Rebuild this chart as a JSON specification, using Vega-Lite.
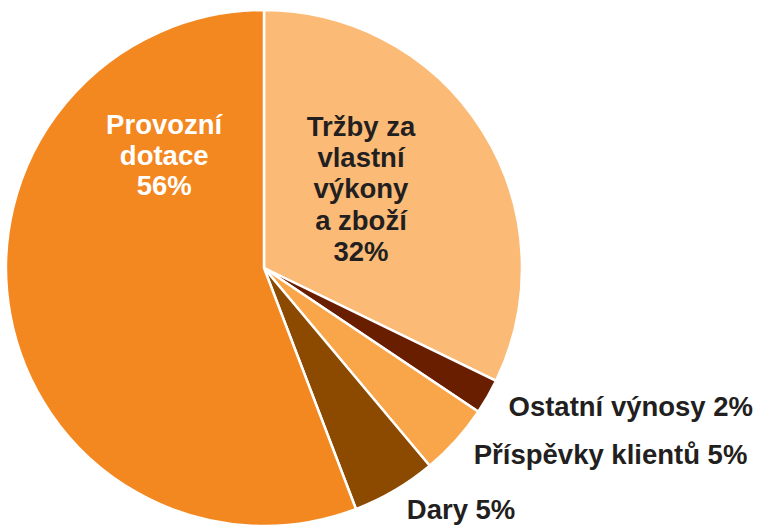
{
  "$schema": "https://vega.github.io/schema/vega-lite/v6.json",
  "width": 528,
  "height": 516,
  "autosize": {"type": "none"},
  "padding": {"left": 0, "top": 10, "right": 232, "bottom": 0},
  "background": "white",
  "config": {"view": {"stroke": null}},
  "data": {
    "values": [
      {"k": "Tržby za vlastní výkony a zboží", "o": 1, "v": 32.2, "lab": "Tržby za\nvlastní\nvýkony\na zboží\n32%", "pos": "in1"},
      {"k": "Ostatní výnosy", "o": 2, "v": 2.2, "lab": "Ostatní výnosy 2%", "pos": "out"},
      {"k": "Příspěvky klientů", "o": 3, "v": 4.5, "lab": "Příspěvky klientů 5%", "pos": "out"},
      {"k": "Dary", "o": 4, "v": 5.3, "lab": "Dary 5%", "pos": "out"},
      {"k": "Provozní dotace", "o": 5, "v": 55.8, "lab": "Provozní\ndotace\n56%", "pos": "in2"}
    ]
  },
  "encoding": {
    "theta": {"field": "v", "type": "quantitative", "stack": true},
    "order": {"field": "o", "type": "quantitative"}
  },
  "layer": [
    {
      "mark": {"type": "arc", "outerRadius": 258, "stroke": "white", "strokeWidth": 2.5},
      "encoding": {
        "color": {
          "field": "k", "type": "nominal", "legend": null,
          "scale": {
            "domain": ["Tržby za vlastní výkony a zboží", "Ostatní výnosy", "Příspěvky klientů", "Dary", "Provozní dotace"],
            "range": ["#FBBB77", "#6A1E00", "#F9A64A", "#8B4A00", "#F38720"]
          }
        }
      }
    },
    {
      "mark": {"type": "text", "radius": 282, "align": "left", "baseline": "middle", "font": "Liberation Sans", "fontWeight": "bold", "fontSize": 27.5, "color": "#231F20"},
      "encoding": {"text": {"condition": {"test": "datum.pos == 'out'", "field": "lab"}, "value": ""}}
    },
    {
      "mark": {"type": "text", "radius": 125, "align": "center", "baseline": "middle", "dx": -9, "dy": -74, "lineBreak": "\n", "lineHeight": 31.3, "font": "Liberation Sans", "fontWeight": "bold", "fontSize": 27.5, "color": "#231F20"},
      "encoding": {"text": {"condition": {"test": "datum.pos == 'in1'", "field": "lab"}, "value": ""}}
    },
    {
      "mark": {"type": "text", "radius": 100, "align": "center", "baseline": "middle", "dx": -1.5, "dy": -160, "lineBreak": "\n", "lineHeight": 30.5, "font": "Liberation Sans", "fontWeight": "bold", "fontSize": 27.5, "color": "white"},
      "encoding": {"text": {"condition": {"test": "datum.pos == 'in2'", "field": "lab"}, "value": ""}}
    }
  ]
}
